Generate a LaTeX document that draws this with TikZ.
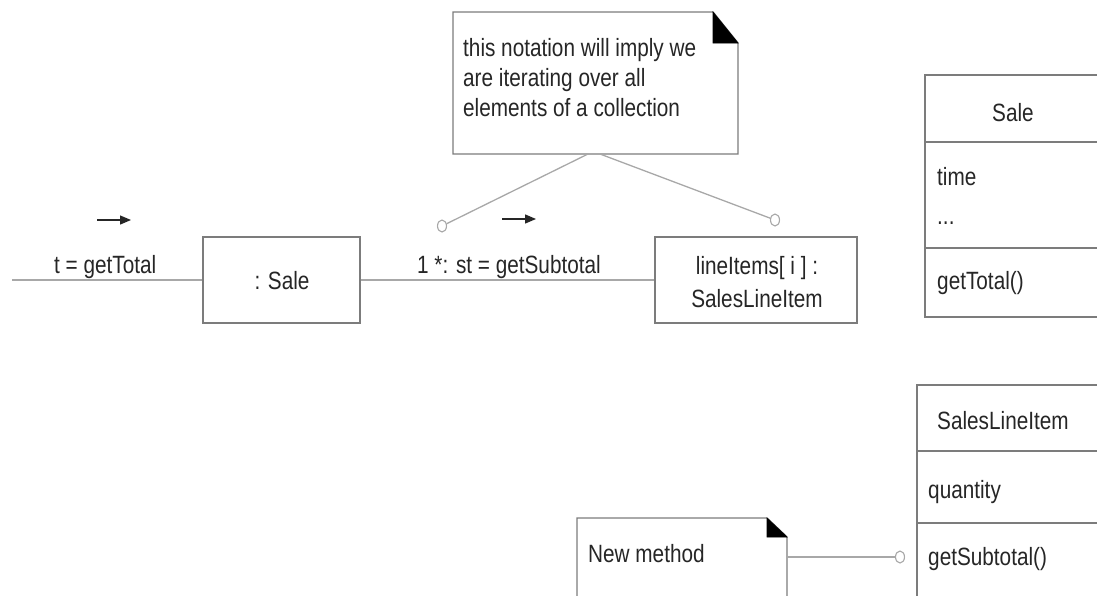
\documentclass[tikz,border=0pt]{standalone}
\usepackage{fontspec}
\setmainfont{Liberation Sans}[FakeStretch=0.83]
\usetikzlibrary{arrows.meta,shapes.geometric}
\definecolor{linegray}{HTML}{7C7C7C}
\definecolor{linkgray}{HTML}{A8A8A8}
\definecolor{txtgray}{HTML}{262626}
\begin{document}
\begin{tikzpicture}[x=1pt,y=-1pt,
  lbl/.style={inner sep=0pt, text=txtgray, font=\fontsize{25}{30}\selectfont},
  objbox/.style={draw=linegray, line width=1.4pt, fill=white, rectangle, inner sep=0pt},
  outline/.style={draw=linegray, line width=1.4pt},
  link/.style={draw=linkgray, line width=1.3pt},
  port/.style={draw=linkgray, line width=1.1pt, fill=white, ellipse,
               minimum width=9pt, minimum height=12pt, inner sep=0pt},
  msg/.style={-{Triangle[length=11pt,width=9pt]}, line width=1.3pt, draw=txtgray},
  fold/.style={fill=black, draw=black, line width=0.6pt}
]
\useasboundingbox (0,0) rectangle (1097,595);
\clip (0,0) rectangle (1097,595);

% ---------- collaboration: incoming message, :Sale, lineItems[i]
\node[objbox, minimum width=157pt, minimum height=86pt] (sale) at (281.5,280) {};
\node[lbl, anchor=base] (saleText) at (282,289) {: Sale};
\node[objbox, minimum width=202pt, minimum height=86pt] (items) at (756,280) {};
\node[lbl, anchor=base] (itemsA) at (757,274) {lineItems[ i ] :};
\node[lbl, anchor=base] (itemsB) at (757,307) {SalesLineItem};

\coordinate (start) at (12,280);
\draw[link] (start) -- (sale.west);
\draw[link] (sale.east) -- (items.west);

\node[lbl, anchor=base west] (msgTotal) at (54,273) {t = getTotal};
\coordinate (arrA1) at (97,220);
\coordinate (arrA2) at (131,220);
\draw[msg] (arrA1) -- (arrA2);

\node[lbl, anchor=base west] (msgSub) at (417,273) {1 *: st = getSubtotal};
\coordinate (arrB1) at (502,219);
\coordinate (arrB2) at (536,219);
\draw[msg] (arrB1) -- (arrB2);

% ---------- note about iteration
\coordinate (n1a) at (453,12);
\coordinate (n1b) at (713,12);
\coordinate (n1c) at (738,43);
\coordinate (n1d) at (738,154);
\coordinate (n1e) at (453,154);
\coordinate (n1f) at (713,43);
\draw[outline, fill=white] (n1a) -- (n1b) -- (n1c) -- (n1d) -- (n1e) -- cycle;
\fill[fold] (n1b) -- (n1f) -- (n1c) -- cycle;
\node[lbl, anchor=base west] (note1a) at (463,56) {this notation will imply we};
\node[lbl, anchor=base west] (note1b) at (463,86) {are iterating over all};
\node[lbl, anchor=base west] (note1c) at (463,116) {elements of a collection};

\node[port] (portL) at (442,226) {};
\node[port] (portR) at (775,220) {};
\coordinate (n1l) at (588,154);
\coordinate (n1r) at (600,154);
\draw[link] (n1l) -- (portL);
\draw[link] (n1r) -- (portR);

% ---------- class Sale
\draw[outline] (925,75) rectangle (1115,317);
\draw[outline] (925,142) -- (1115,142);
\draw[outline] (925,248) -- (1115,248);
\node[lbl, anchor=base] (clsSale) at (1013,121) {Sale};
\node[lbl, anchor=base west] (attTime) at (937,185) {time};
\node[lbl, anchor=base west] (attMore) at (937,224) {...};
\node[lbl, anchor=base west] (opTotal) at (937,289) {getTotal()};

% ---------- class SalesLineItem
\draw[outline] (917,385) rectangle (1115,620);
\draw[outline] (917,451) -- (1115,451);
\draw[outline] (917,523) -- (1115,523);
\node[lbl, anchor=base west] (clsItem) at (937,429) {SalesLineItem};
\node[lbl, anchor=base west] (attQty) at (928,498) {quantity};
\node[lbl, anchor=base west] (opSub) at (928,565) {getSubtotal()};

% ---------- note on the new method
\coordinate (n2a) at (577,518);
\coordinate (n2b) at (767,518);
\coordinate (n2c) at (787,537);
\coordinate (n2d) at (787,620);
\coordinate (n2e) at (577,620);
\coordinate (n2f) at (767,537);
\draw[outline, fill=white] (n2a) -- (n2b) -- (n2c) -- (n2d) -- (n2e) -- cycle;
\fill[fold] (n2b) -- (n2f) -- (n2c) -- cycle;
\node[lbl, anchor=base west] (note2) at (588,562) {New method};

\node[port] (portM) at (900,557) {};
\coordinate (n2r) at (787,557);
\draw[link] (n2r) -- (portM);
\end{tikzpicture}
\end{document}
